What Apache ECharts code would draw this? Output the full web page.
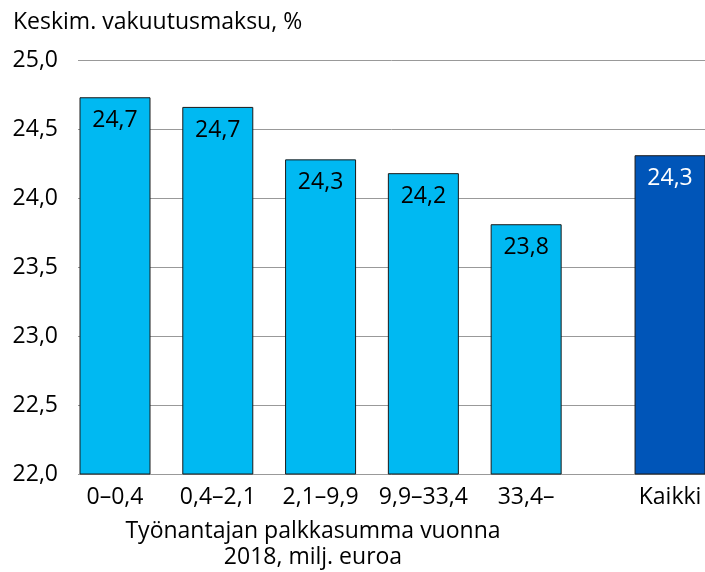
<!DOCTYPE html>
<html>
<head>
<meta charset="utf-8">
<script src="https://cdn.jsdelivr.net/npm/echarts@6/dist/echarts.min.js"></script>
<style>
  html, body { margin: 0; padding: 0; background: #fff; }
  #main { width: 705px; height: 572px; }
</style>
</head>
<body>
<div id="main"></div>
<script>
// luokat ja arvot
const categories = ['0–0,4', '0,4–2,1', '2,1–9,9', '9,9–33,4', '33,4–', 'Kaikki'];
const values = [24.73, 24.66, 24.28, 24.18, 23.81, 24.31];
// Kaikki-pylväs on erillään muista
const slots = [0, 1, 2, 3, 4, 5.4];
const yTicks = [22.0, 22.5, 23.0, 23.5, 24.0, 24.5, 25.0];

const FONT = 'Open Sans';
const fmt = v => v.toFixed(1).replace('.', ',');

let chart = echarts.init(document.getElementById('main'), null, { renderer: 'canvas' });

let seriesData = values.map((v, i) => {
  let last = i === values.length - 1;
  return {
    value: [slots[i], v],
    itemStyle: { color: last ? '#0055b8' : '#00b9f2' },
    label: { color: last ? '#fff' : '#000' }
  };
});

chart.setOption({
  animation: false,
  textStyle: { fontFamily: FONT },
  title: [
    {
      text: 'Keskim. vakuutusmaksu, %',
      left: 8, top: 6,
      textStyle: { fontFamily: FONT, fontSize: 23, fontWeight: 'normal', color: '#000' }
    },
    {
      text: 'Työnantajan palkkasumma vuonna\n2018, milj. euroa',
      left: 308, top: 513, textAlign: 'center',
      textStyle: { fontFamily: FONT, fontSize: 23, fontWeight: 'normal', color: '#000', lineHeight: 26 }
    }
  ],
  grid: { left: 78, right: 0, top: 60, bottom: 98 },
  xAxis: {
    type: 'value',
    min: -0.36, max: 5.74,
    axisLine: { show: false },
    axisTick: { show: false },
    splitLine: { show: false },
    axisLabel: {
      customValues: slots,
      formatter: v => categories[slots.indexOf(v)],
      fontFamily: FONT, fontSize: 23, color: '#000', margin: 12
    }
  },
  yAxis: {
    type: 'value',
    min: yTicks[0], max: yTicks[yTicks.length - 1], interval: 0.5,
    axisLine: { show: false },
    axisTick: { show: true, inside: false, length: 10, lineStyle: { color: '#999' } },
    splitLine: { lineStyle: { color: '#999', width: 1 } },
    axisLabel: { formatter: fmt, fontFamily: FONT, fontSize: 23, color: '#000', margin: 20 }
  },
  series: [{
    type: 'bar',
    barWidth: 71,
    data: seriesData,
    itemStyle: { borderColor: '#1a1a1a', borderWidth: 1 },
    label: {
      show: true,
      position: 'insideTop',
      distance: 12,
      fontFamily: FONT, fontSize: 23,
      formatter: p => fmt(p.value[1])
    }
  }]
});
</script>
</body>
</html>
